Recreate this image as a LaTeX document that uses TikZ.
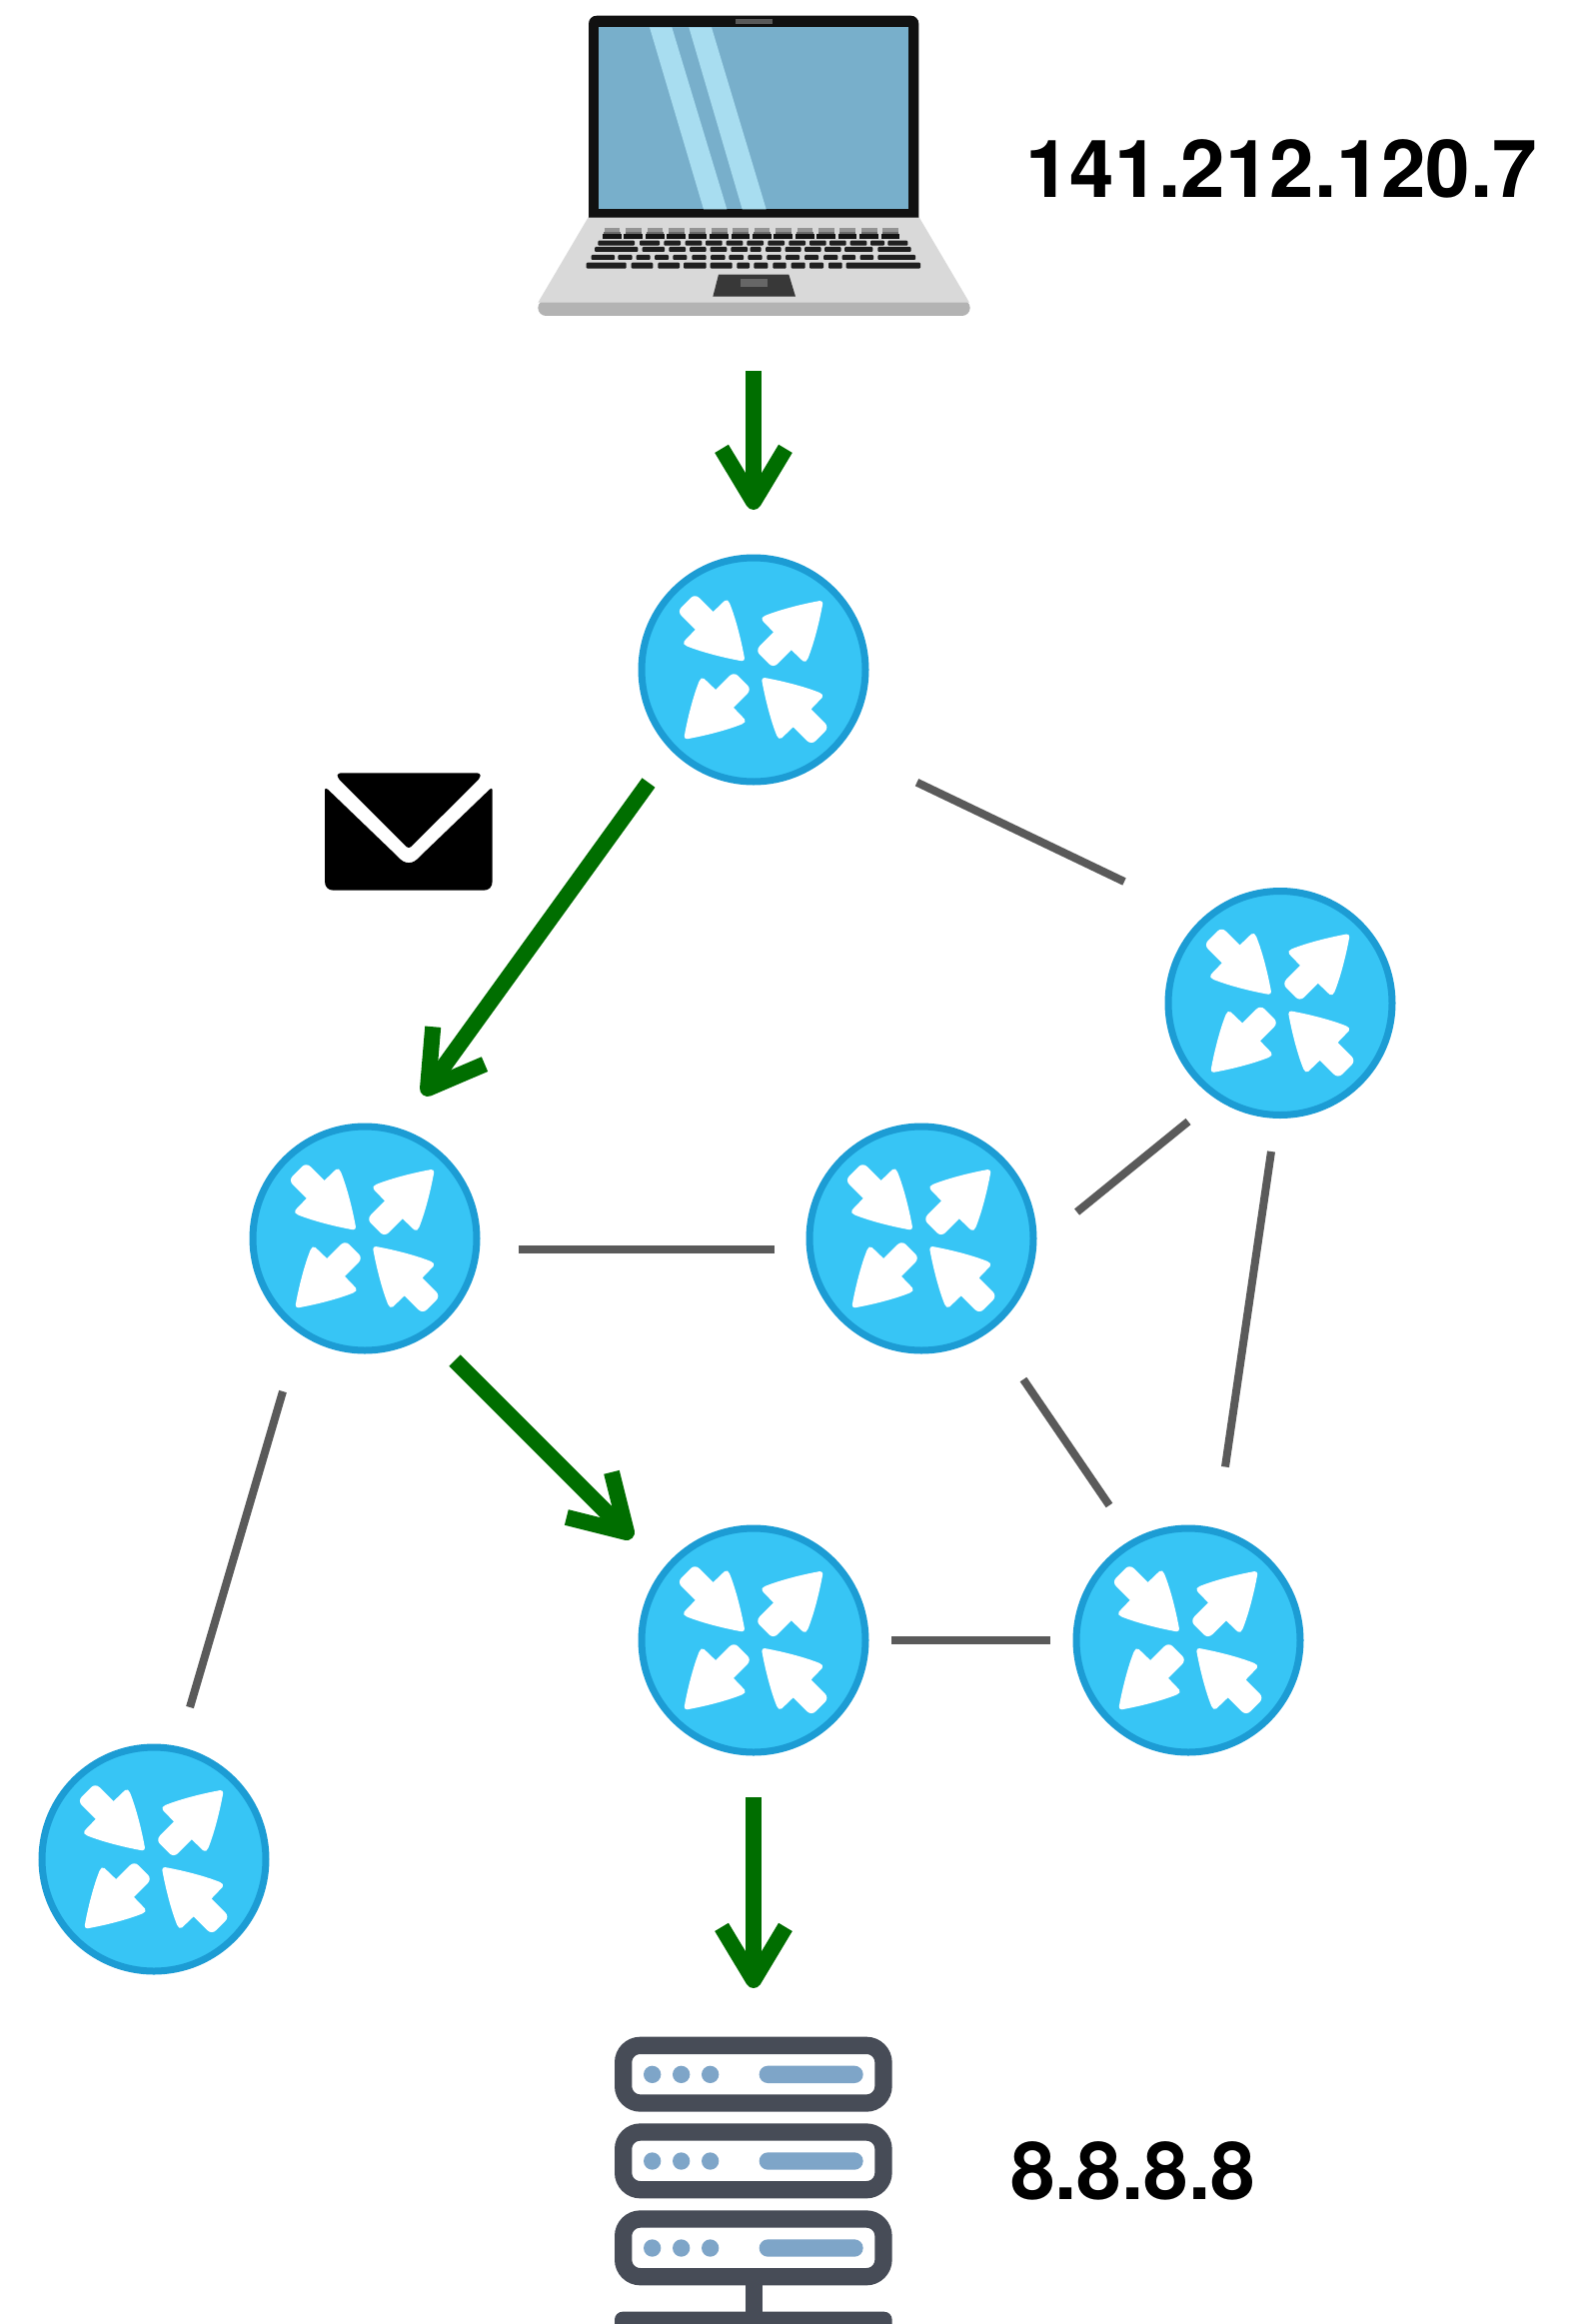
\documentclass[tikz,border=0pt]{standalone}
\usepackage{fontspec}
\setmainfont{TeX Gyre Heros}
\usetikzlibrary{calc}
\definecolor{routerfill}{HTML}{37C5F5}
\definecolor{routeredge}{HTML}{1C9CD4}
\definecolor{flowgreen}{HTML}{006E00}
\definecolor{linkgrey}{HTML}{5A5A5A}
\definecolor{srvdark}{HTML}{474C57}
\definecolor{srvblue}{HTML}{7EA5C8}
\definecolor{lapscreen}{HTML}{78AFCB}
\definecolor{lapshine}{HTML}{A8DDF0}
\definecolor{lapbase}{HTML}{D9D9D9}
\definecolor{lapedge}{HTML}{B3B3B3}
\definecolor{lapbezel}{HTML}{111111}
\tikzset{
  routernode/.style={circle,draw=routeredge,fill=routerfill,line width=7pt,minimum size=224pt,inner sep=0pt},
  squeeze/.style={fill=white},
  linkline/.style={draw=linkgrey,line width=8pt},
  flowline/.style={draw=flowgreen,line width=16pt},
  flowhead/.style={draw=flowgreen,line width=16pt,line join=round},
  bigtext/.style={anchor=base west,inner sep=0pt,font=\fontsize{80}{80}\selectfont\bfseries},
  keycap/.style={fill=black!88,rounded corners=1pt},
  srvbox/.style={draw=srvdark,line width=17.3pt,fill=white,rounded corners=17pt},
  srvdot/.style={fill=srvblue},
}
\newcommand{\oneshaft}[4]{%
  \begin{scope}[shift={(#1.center)},shift={(#2pt,#3pt)},rotate=#4,x=0.33333pt,y=0.33333pt]
    \fill[squeeze] (2,-6) .. controls (45,-36) and (105,-72) .. (150,-91)
      .. controls (158,-95) and (165,-93) .. (166,-86) -- (167,-38) -- (225,-38)
      .. controls (237,-38) and (244,-30) .. (244,-20) -- (244,20)
      .. controls (244,30) and (237,38) .. (225,38) -- (167,38) -- (166,86)
      .. controls (165,93) and (158,95) .. (150,91)
      .. controls (105,72) and (45,36) .. (2,6)
      .. controls (-2,3) and (-2,-3) .. (2,-6) -- cycle;
  \end{scope}}
\newcommand{\squeezearrows}[1]{%
  \oneshaft{#1}{-10}{9.7}{135}%
  \oneshaft{#1}{9.3}{-9}{-45}%
  \oneshaft{#1}{68.3}{68}{225}%
  \oneshaft{#1}{-68.3}{-68.3}{45}}
\newcommand{\flowarrow}[2]{%
  \draw[flowline] (#1) -- (#2);
  \draw[flowhead] ($(#2)!62pt!31:(#1)$) -- (#2) -- ($(#2)!62pt!-31:(#1)$);}
\newcommand{\keyrow}[3]{%
  \foreach \a/\b in {#3} {\fill[keycap] (\a,#1) rectangle (\b,#2);}}
\begin{document}
\begin{tikzpicture}[x=1pt,y=-1pt]
\useasboundingbox (0,0) rectangle (1589,2325);
% laptop
\begin{scope}[shift={(520,0)},x=0.33333pt,y=-0.33333pt]
  \fill[lapedge,rounded corners=8pt] (55,900) -- (1352,900) -- (1352,948) -- (55,948) -- cycle;
  \fill[lapbase] (207,650) -- (1198,650) -- (1350,908) -- (55,908) -- cycle;
  \fill[lapbezel] (207,653) -- (207,72) .. controls (207,57) and (217,47) .. (232,47) -- (1173,47)
    .. controls (1188,47) and (1198,57) .. (1198,72) -- (1198,653) -- cycle;
  \fill[lapscreen] (238,80) rectangle (1168,628);
  \fill[lapshine] (390,82) -- (457,82) -- (622,628) -- (552,628) -- cycle;
  \fill[lapshine] (508,82) -- (576,82) -- (740,628) -- (668,628) -- cycle;
  \fill[black!65] (648,58) rectangle (760,72);
  \foreach \i in {0,...,13} {
    \pgfmathsetmacro{\xa}{252+64.3*\i}
    \pgfmathsetmacro{\xb}{\xa+51}
    \fill[black!42] (\xa+2,685) rectangle (\xb-2,695);
    \fill[black!58] (\xa+1,695) rectangle (\xb-1,703);
    \fill[black!92] (\xa-3,703) rectangle (\xb+2,716);
  }
  \keyrow{722}{737}{235/345,360/420,433/483,497/547,558/608,620/670,682/732,745/795,808/858,870/920,930/980,992/1042,1053/1095,1105/1165}
  \keyrow{741}{756}{225/355,368/435,448/498,510/560,572/622,634/684,692/725,738/785,797/845,855/905,915/965,975/1060,1075/1175}
  \keyrow{765}{780}{215/285,295/338,350/392,405/447,460/502,517/560,573/617,628/672,685/728,742/785,798/840,855/897,912/955,968/1008,1022/1062,1075/1188}
  \keyrow{788}{806}{200/320,335/400,415/480,492/560,572/638,652/690,703/745,760/800,815/857,870/912,927/968,980/1203}
  \fill[black!78] (597,824) -- (808,824) -- (828,890) -- (580,890) -- cycle;
  \fill[black!60] (662,836) rectangle (745,860);
\end{scope}
\node[bigtext] (laptopip) at (1026,198) {141.212.120.7};
% routers
\node[routernode] (r1) at (754,670) {};
\node[routernode] (r2) at (1281,1003.5) {};
\node[routernode] (r3) at (365,1239) {};
\node[routernode] (r4) at (922,1239) {};
\node[routernode] (r5) at (754,1641) {};
\node[routernode] (r6) at (1189,1641) {};
\node[routernode] (r7) at (154,1860) {};
\squeezearrows{r1}\squeezearrows{r2}\squeezearrows{r3}\squeezearrows{r4}
\squeezearrows{r5}\squeezearrows{r6}\squeezearrows{r7}
% connector ends
\coordinate (a1) at (917.5,782.7); \coordinate (b1) at (1125,882);
\coordinate (a2) at (519,1249.8); \coordinate (b2) at (775,1249.8);
\coordinate (a3) at (1077.6,1212.5); \coordinate (b3) at (1189,1122);
\coordinate (a4) at (1272,1152); \coordinate (b4) at (1226,1467.5);
\coordinate (a5) at (1024,1380); \coordinate (b5) at (1110,1506);
\coordinate (a6) at (892,1641); \coordinate (b6) at (1051,1641);
\coordinate (a7) at (283,1392); \coordinate (b7) at (190,1708);
\foreach \k in {1,...,7} {\draw[linkline] (a\k) -- (b\k);}
\coordinate (f1a) at (754,371); \coordinate (f1b) at (754,502);
\coordinate (f2a) at (649,783); \coordinate (f2b) at (428,1089);
\coordinate (f3a) at (455,1361); \coordinate (f3b) at (627,1533);
\coordinate (f4a) at (754,1798); \coordinate (f4b) at (754,1981);
\flowarrow{f1a}{f1b}
\flowarrow{f2a}{f2b}
\flowarrow{f3a}{f3b}
\flowarrow{f4a}{f4b}
% envelope
\begin{scope}[shift={(300,740)},x=0.33333pt,y=-0.33333pt]
  \fill[black,rounded corners=3pt] (113,100) -- (542,100) -- (542,114) -- (327,328) -- (113,114) -- cycle;
  \fill[black] (75,150) .. controls (75,146) and (80,145) .. (84,149) -- (293,350)
    .. controls (315,376) and (339,376) .. (361,350) -- (570,149)
    .. controls (574,145) and (578,146) .. (578,150) -- (578,425)
    .. controls (578,442) and (568,452) .. (552,452) -- (101,452)
    .. controls (85,452) and (75,442) .. (75,425) -- cycle;
\end{scope}
% server
\begin{scope}
  \clip (0,0) rectangle (1589,2325);
  \begin{scope}[shift={(590,2010)},x=0.33333pt,y=-0.33333pt]
    \fill[srvdark] (467,820) rectangle (518,915);
    \fill[srvdark,rounded corners=8pt] (75,908) rectangle (908,1000);
    \foreach \t in {109,369,630} {
      \draw[srvbox] (101,\t) rectangle (882,\t+173);
      \foreach \d in {188,275,362} {\fill[srvdot] (\d,\t+87) circle (26);}
      \fill[srvdot,rounded corners=8.6pt] (509,\t+61) rectangle (821,\t+113);
    }
  \end{scope}
\end{scope}
\node[bigtext] (serverip) at (1011,2200) {8.8.8.8};
\end{tikzpicture}
\end{document}
